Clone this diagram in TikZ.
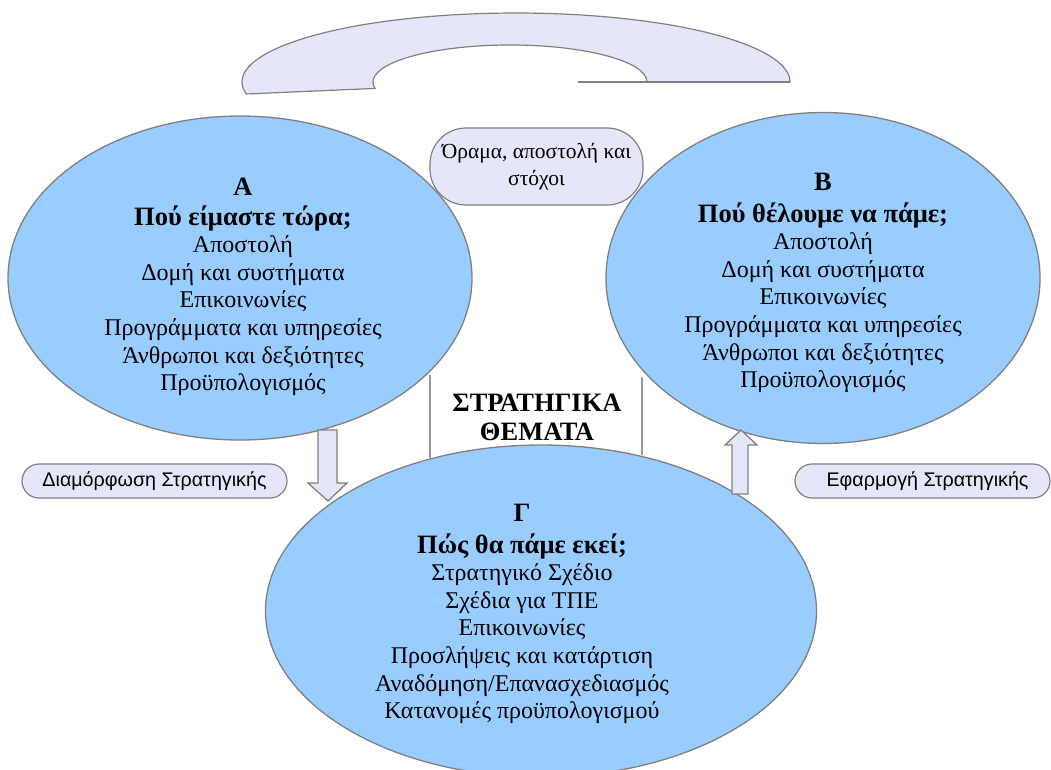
\documentclass[tikz,border=0pt]{standalone}
\usepackage{fontspec}
\setmainfont{Liberation Serif}
\newfontfamily\pillsans{Liberation Sans}
\usetikzlibrary{shapes.geometric}
\definecolor{ellblue}{HTML}{99CCFF}
\definecolor{lav}{HTML}{E6E6FA}
\definecolor{edgegray}{HTML}{808080}
\newcommand{\ttl}[1]{{\fontsize{26.5}{27.6}\selectfont\bfseries #1}}
\tikzset{
  bigell/.style={ellipse, draw=edgegray, line width=1.3pt, fill=ellblue, inner sep=0pt},
  ellbody/.style={align=center, font=\fontsize{24}{27.6}\selectfont, inner sep=0pt},
  pill/.style={draw=edgegray, line width=1.2pt, fill=lav, inner sep=0pt, align=center},
  blockarrow/.style={draw=edgegray, line width=1.3pt, fill=lav},
  guide/.style={draw=edgegray!80, line width=1.2pt}
}
\begin{document}
\begin{tikzpicture}[x=1pt,y=-1pt]
\useasboundingbox (0,0) rectangle (1051,770);
% top curved band
\path[fill=lav, draw=edgegray, line width=1.2pt]
  (246.2,94) arc[start angle=190, end angle=0, x radius=274pt, y radius=69pt]
  -- (647,82) arc[start angle=0, end angle=190, x radius=137pt, y radius=37pt] -- cycle;
\coordinate (h1) at (578,82);
\coordinate (h2) at (790,82);
\draw[edgegray, line width=1.2pt] (h1) -- (h2);
% ellipses
\node[bigell, minimum width=464pt, minimum height=324pt] (A) at (240,278) {};
\node[bigell, minimum width=434pt, minimum height=331pt] (B) at (823,278) {};
\node[bigell, minimum width=551pt, minimum height=332pt] (G) at (541,611) {};
% guide lines
\coordinate (l1t) at (430,375);
\coordinate (l1b) at (430,458);
\coordinate (l2t) at (642,377);
\coordinate (l2b) at (642,455);
\draw[guide] (l1t) -- (l1b);
\draw[guide] (l2t) -- (l2b);
% pills
\node[pill, rounded corners=36pt, minimum width=213pt, minimum height=77pt,
      font=\fontsize{21.5}{27}\selectfont] (P1) at (536.5,166.5) {Όραμα, αποστολή και\\στόχοι};
\node[pill, rounded corners=17pt, minimum width=265pt, minimum height=34pt,
      font=\pillsans\fontsize{19.7}{22}\selectfont] (P2) at (154.5,481) {Διαμόρφωση Στρατηγικής};
\node[pill, rounded corners=17pt, minimum width=255pt, minimum height=34pt,
      font=\pillsans\fontsize{19.7}{22}\selectfont] (P3) at (922.5,481) {\hspace*{10pt}Εφαρμογή Στρατηγικής};
% block arrows
\path[blockarrow] (318,430) -- (337,430) -- (337,483) -- (347,483) -- (328,501) -- (308,483) -- (318,483) -- cycle;
\path[blockarrow] (741,430) -- (757,445) -- (748,445) -- (748,494) -- (732,494) -- (732,445) -- (725,445) -- cycle;
% texts
\node[ellbody] (At) at (243,287) {\ttl{Α}\\[2pt]\ttl{Πού είμαστε τώρα;}\\Αποστολή\\Δομή και συστήματα\\Επικοινωνίες\\Προγράμματα και υπηρεσίες\\Άνθρωποι και δεξιότητες\\Προϋπολογισμός};
\node[ellbody] (Bt) at (823,283) {\ttl{Β}\\[4pt]\ttl{Πού θέλουμε να πάμε;}\\Αποστολή\\Δομή και συστήματα\\Επικοινωνίες\\Προγράμματα και υπηρεσίες\\Άνθρωποι και δεξιότητες\\Προϋπολογισμός};
\node[ellbody] (Gt) at (522,614) {\ttl{Γ}\\[4pt]\ttl{Πώς θα πάμε εκεί;}\\Στρατηγικό Σχέδιο\\Σχέδια για ΤΠΕ\\Επικοινωνίες\\Προσλήψεις και κατάρτιση\\Αναδόμηση/Επανασχεδιασμός\\Κατανομές προϋπολογισμού};
\node[align=center, inner sep=0pt, font=\bfseries\fontsize{26.5}{29}\selectfont] (S) at (537,417) {ΣΤΡΑΤΗΓΙΚΑ\\ΘΕΜΑΤΑ};
\end{tikzpicture}
\end{document}
